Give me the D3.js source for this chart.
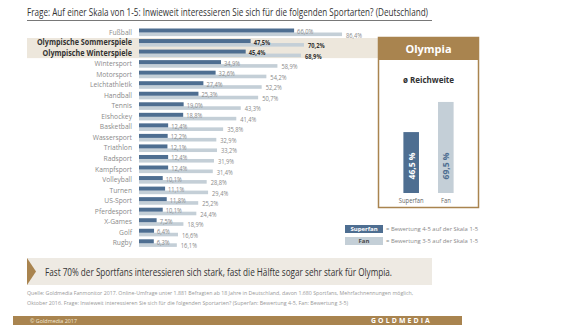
<!DOCTYPE html>
<html><head><meta charset="utf-8">
<script src="https://cdn.jsdelivr.net/npm/d3@7"></script>
<style>body{margin:0;background:#fff}svg{display:block}text{font-family:"Open Sans",sans-serif}</style>
</head><body>
<script>
const categories = ["Fußball","Olympische Sommerspiele","Olympische Winterspiele","Wintersport","Motorsport","Leichtathletik","Handball","Tennis","Eishockey","Basketball","Wassersport","Triathlon","Radsport","Kampfsport","Volleyball","Turnen","US-Sport","Pferdesport","X-Games","Golf","Rugby"];
const superfan = [66.0,47.5,45.4,34.9,32.6,27.4,25.3,19.0,18.8,12.4,12.2,12.1,12.4,12.4,10.1,11.1,11.8,10.1,7.5,6.4,6.3];
const fan = [86.4,70.2,68.9,58.9,54.2,52.2,50.7,43.3,41.4,35.8,32.9,33.2,31.9,31.4,28.8,29.4,25.2,24.4,18.9,16.6,16.1];
const highlighted = ["Olympische Sommerspiele","Olympische Winterspiele"];
const reachLabels = ["Superfan","Fan"];
const reachValues = [46.5,69.5];

const DARK="#4e6e91", LIGHT="#c4cfd7", BROWN="#a9844f", BEIGE="#ede7dc";
const fmt = v => v.toFixed(1).replace(".", ",");

const svg = d3.select("body").append("svg").attr("width",580).attr("height",326);

function txt(g, x, y, s, o={}) {
  const t = g.append("text")
    .attr("transform", `translate(${x},${y}) scale(${o.sx||1},1)`)
    .attr("font-size", o.size||8)
    .attr("font-weight", o.weight||"normal")
    .attr("fill", o.fill||"#333")
    .attr("text-anchor", o.anchor||"start")
    .text(s);
  if (o.len) t.attr("textLength", o.len).attr("lengthAdjust","spacingAndGlyphs");
  if (o.ls) t.attr("letter-spacing", o.ls);
  return t;
}

// Title
txt(svg, 27, 16, "Frage: Auf einer Skala von 1-5: Inwieweit interessieren Sie sich für die folgenden Sportarten? (Deutschland)", {size:10, fill:"#333", len:401});
svg.append("line").attr("x1",27).attr("x2",432).attr("y1",20.5).attr("y2",20.5).attr("stroke","#555").attr("stroke-width",0.8);

const x = d3.scaleLinear().domain([0,100]).range([139,374]);
const y = d3.scaleBand().domain(categories).range([27, 27+21*10.54]);

// highlight band
const hy0 = y(highlighted[0]) + 0.5, hy1 = y(highlighted[1]) + y.bandwidth() - 0.5;
svg.append("rect").attr("x",27).attr("y",hy0).attr("width",378-27).attr("height",hy1-hy0).attr("fill",BEIGE);

// bars
const rows = svg.append("g");
categories.forEach((c,i) => {
  const top = y(c) + 1.5;
  const hl = highlighted.includes(c);
  rows.append("rect").attr("x",x(0)).attr("y",top+4).attr("width",x(fan[i])-x(0)).attr("height",3.6).attr("fill",LIGHT);
  rows.append("rect").attr("x",x(0)).attr("y",top).attr("width",x(superfan[i])-x(0)).attr("height",4).attr("fill",DARK);
  txt(rows, 132, top+6, c, hl ? {size:8, weight:"bold", fill:"#333", anchor:"end", sx:0.9} : {size:8, fill:"#8a8a8a", anchor:"end", sx:0.84});
  txt(rows, x(superfan[i])+3, top+5.5, fmt(superfan[i])+"%", hl ? {size:7, weight:"bold", fill:"#333", sx:0.82} : {size:7, fill:"#8a8a8a", sx:0.82});
  txt(rows, x(fan[i])+4, top+9, fmt(fan[i])+"%", hl ? {size:7, weight:"bold", fill:"#333", sx:0.82} : {size:7, fill:"#8a8a8a", sx:0.82});
});

// Olympia panel
const p = svg.append("g");
p.append("rect").attr("x",378.5).attr("y",37.5).attr("width",100).attr("height",170).attr("fill","#fff").attr("stroke",BROWN).attr("stroke-width",1.5);
p.append("rect").attr("x",378).attr("y",37).attr("width",101).attr("height",23).attr("fill",BROWN);
txt(p, 428.5, 53, "Olympia", {size:11, weight:"bold", fill:"#fff", anchor:"middle"});
txt(p, 428.5, 83, "ø Reichweite", {size:8, weight:"bold", fill:"#333", anchor:"middle"});
const px = d3.scaleBand().domain(reachLabels).range([393,464]).paddingInner(0.55).paddingOuter(0.3);
const py = d3.scaleLinear().domain([0,100]).range([193, 193-131]);
reachLabels.forEach((l,i) => {
  const bx = px(l), bw = px.bandwidth();
  p.append("rect").attr("x",bx).attr("y",py(reachValues[i])).attr("width",bw).attr("height",py(0)-py(reachValues[i])).attr("fill", i===0?DARK:LIGHT);
  p.append("text").attr("transform",`translate(${bx+bw/2+3.5},166) rotate(-90)`)
    .attr("text-anchor","middle").attr("font-size",8.5).attr("font-weight","bold")
    .attr("fill", i===0?"#fff":DARK).text(fmt(reachValues[i])+" %");
  txt(p, bx+bw/2, 203, l, {size:6.5, fill:"#666", anchor:"middle", sx:0.9});
});

// Legend
const lg = svg.append("g");
const legendItems = [["Superfan", DARK, "#fff", "= Bewertung 4-5 auf der Skala 1-5"],["Fan", LIGHT, "#4a4a4a", "= Bewertung 3-5 auf der Skala 1-5"]];
legendItems.forEach((d,i) => {
  const ly = 225 + i*12;
  lg.append("rect").attr("x",345).attr("y",ly).attr("width",38).attr("height",8).attr("fill",d[1]);
  txt(lg, 364, ly+6.2, d[0], {size:6, weight:"bold", fill:d[2], anchor:"middle"});
  txt(lg, 386, ly+6, d[3], {size:5.6, fill:"#888", len:92});
});

// Banner
const b = svg.append("g");
b.append("rect").attr("x",27).attr("y",258).attr("width",405).attr("height",27).attr("fill","#eeeae3");
b.append("path").attr("d","M27,258 L36,271.5 L27,285 Z").attr("fill",BROWN);
txt(b, 45, 276, "Fast 70% der Sportfans interessieren sich stark, fast die Hälfte sogar sehr stark für Olympia.", {size:10.5, fill:"#333", len:347});

// Source
txt(svg, 27, 295, "Quelle: Goldmedia Fanmonitor 2017. Online-Umfrage unter 1.881 Befragten ab 18 Jahre in Deutschland, davon 1.680 Sportfans, Mehrfachnennungen möglich,", {size:5.5, fill:"#999", len:386});
txt(svg, 27, 304.5, "Oktober 2016. Frage: Inwieweit interessieren Sie sich für die folgenden Sportarten? (Superfan: Bewertung 4-5, Fan: Bewertung 3-5)", {size:5.5, fill:"#999", len:321});

// Footer
svg.append("rect").attr("x",13).attr("y",316).attr("width",449).attr("height",9).attr("fill",BROWN);
txt(svg, 30, 322.8, "© Goldmedia 2017", {size:5.5, fill:"#f3ead9", len:47});
txt(svg, 371, 323, "GOLDMEDIA", {size:6.5, weight:"bold", fill:"#fff", len:61, ls:2});
</script>
</body></html>
